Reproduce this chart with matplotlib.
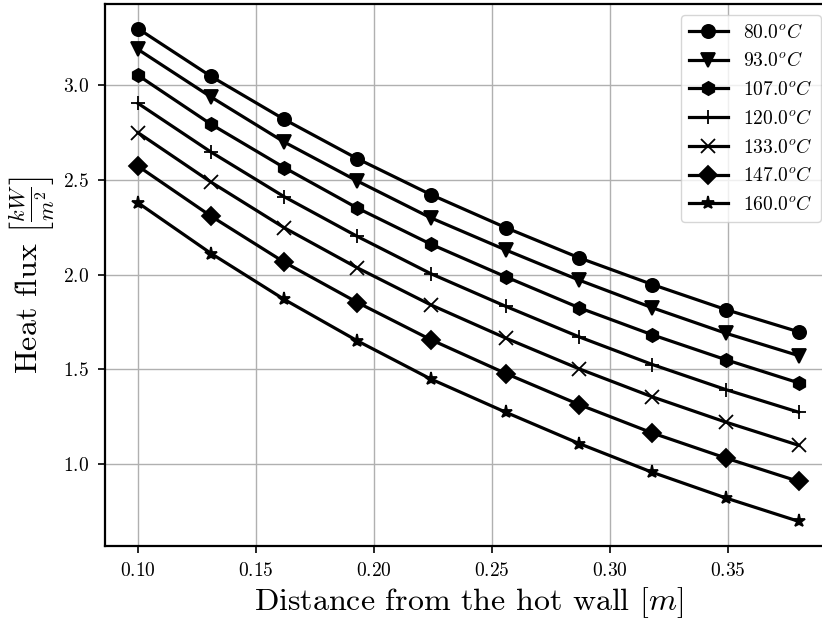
import matplotlib
matplotlib.use("Agg")
import matplotlib.pyplot as plt

plt.rcParams['font.family'] = 'serif'
plt.rcParams['font.serif'] = ['cmr10']
plt.rcParams['mathtext.fontset'] = 'cm'
plt.rcParams['axes.formatter.use_mathtext'] = True
plt.rcParams['axes.unicode_minus'] = False

# distance from the hot wall [m]
dist = [0.100, 0.131, 0.162, 0.193, 0.224, 0.256, 0.287, 0.318, 0.349, 0.380]

# wall temperatures [C]
temps = [80.0, 93.0, 107.0, 120.0, 133.0, 147.0, 160.0]

# heat flux [kW/m2] for each temperature
q_80 = [3.30, 3.047, 2.82, 2.612, 2.423, 2.247, 2.088, 1.947, 1.815, 1.697]
q_93 = [3.19, 2.938, 2.70, 2.494, 2.30, 2.129, 1.97, 1.824, 1.69, 1.571]
q_107 = [3.053, 2.794, 2.565, 2.351, 2.161, 1.987, 1.824, 1.681, 1.550, 1.427]
q_120 = [2.905, 2.647, 2.411, 2.201, 2.005, 1.831, 1.670, 1.524, 1.392, 1.272]
q_133 = [2.75, 2.488, 2.247, 2.035, 1.840, 1.663, 1.501, 1.353, 1.220, 1.097]
q_147 = [2.573, 2.308, 2.065, 1.852, 1.656, 1.476, 1.312, 1.162, 1.030, 0.906]
q_160 = [2.379, 2.111, 1.868, 1.649, 1.448, 1.271, 1.106, 0.954, 0.819, 0.695]

fluxes = [q_80, q_93, q_107, q_120, q_133, q_147, q_160]
markers = ['o', 'v', 'h', '+', 'x', 'D', '*']

fig = plt.figure(figsize=(8.22, 6.22), dpi=100)
ax = fig.add_axes([0.1277, 0.1222, 0.8842, 0.8714])

for T, q, m in zip(temps, fluxes, markers):
    ax.plot(dist, q, color='black', lw=2.3, marker=m, ms=9.5, mew=1.3,
            label=r"%.1f$^oC$" % T)

ax.grid(True, color='#b0b0b0', lw=1)
ax.set_axisbelow(True)
for s in ax.spines.values():
    s.set_linewidth(1.6)
ax.tick_params(labelsize=14, length=5, width=1.2, pad=6.5)

ax.set_xlabel(r"Distance from the hot wall $[m]$", fontsize=23, labelpad=4)
ax.set_ylabel(r"Heat flux $\left[\frac{kW}{m^2}\right]$", fontsize=23)

ax.legend(loc='upper right', bbox_to_anchor=(821/822, 1 - 15/622),
          bbox_transform=fig.transFigure, borderaxespad=0, fontsize=14)

fig.savefig("out.png", dpi=100)
